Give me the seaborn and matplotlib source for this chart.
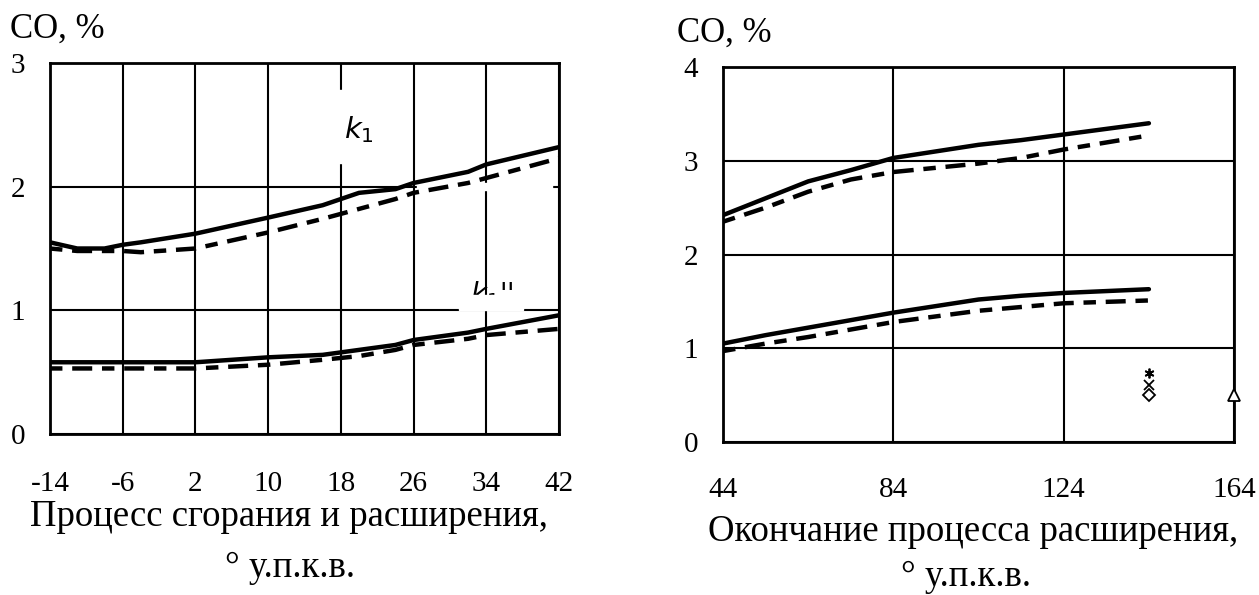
import numpy as np
import pandas as pd
import matplotlib
matplotlib.use("Agg")
import matplotlib.pyplot as plt
from matplotlib.patches import Rectangle
import seaborn as sns

# left panel: combustion and expansion
x_left = [-14, -11, -8, -6, -4, 2, 10, 16, 20, 24, 26, 32, 34, 42]
k1_solid = [1.55, 1.50, 1.50, 1.53, 1.55, 1.62, 1.75, 1.85, 1.95, 1.98, 2.03, 2.12, 2.18, 2.32]
k1_dash = [1.50, 1.48, 1.48, 1.48, 1.47, 1.50, 1.63, 1.74, 1.82, 1.90, 1.95, 2.03, 2.07, 2.23]
k2_solid = [0.58, 0.58, 0.58, 0.58, 0.58, 0.58, 0.62, 0.64, 0.68, 0.72, 0.76, 0.82, 0.85, 0.96]
k2_dash = [0.53, 0.53, 0.53, 0.53, 0.53, 0.53, 0.56, 0.60, 0.63, 0.68, 0.72, 0.77, 0.80, 0.85]

# right panel: end of expansion
x_right = [44, 54, 64, 74, 84, 104, 114, 124, 144]
r1_solid = [2.42, 2.60, 2.78, 2.90, 3.03, 3.17, 3.22, 3.28, 3.40]
r1_dash = [2.35, 2.50, 2.67, 2.80, 2.88, 2.97, 3.03, 3.12, 3.27]
r2_solid = [1.05, 1.14, 1.22, 1.30, 1.38, 1.52, 1.56, 1.59, 1.63]
r2_dash = [0.97, 1.05, 1.12, 1.20, 1.28, 1.40, 1.44, 1.48, 1.51]

# single points
pts_x = [144, 144, 144, 164]
pts_y = [0.74, 0.61, 0.50, 0.50]
pts_m = [(6, 2, 0), "x", "D", "^"]

left_ticks = [-14, -6, 2, 10, 18, 26, 34, 42]
right_ticks = [44, 84, 124, 164]

sns.set_theme(style="white")
plt.rcParams['font.family'] = ['Liberation Serif', 'DejaVu Serif']
plt.rcParams['mathtext.fontset'] = 'dejavusans'
plt.rcParams['axes.unicode_minus'] = False
for k in ['text.color', 'axes.labelcolor', 'xtick.color', 'ytick.color']:
    plt.rcParams[k] = 'black'

fig = plt.figure(figsize=(12.59, 5.95), dpi=100)
ax1 = fig.add_axes([0.0397, 0.2706, 0.4043, 0.6235])
ax2 = fig.add_axes([0.5743, 0.2571, 0.4059, 0.6303])

lw = 3.2
dash = (2.8, 2.2, 4.5, 2.2)

def draw(ax, x, ys, dashed):
    df = pd.DataFrame({"x": x, "y": ys})
    sns.lineplot(data=df, x="x", y="y", ax=ax, color="black", lw=lw, zorder=3)
    if dashed:
        ax.lines[-1].set_dashes(dash)

draw(ax1, x_left, k1_solid, False)
draw(ax1, x_left, k1_dash, True)
draw(ax1, x_left, k2_solid, False)
draw(ax1, x_left, k2_dash, True)

draw(ax2, x_right, r1_solid, False)
draw(ax2, x_right, r1_dash, True)
draw(ax2, x_right, r2_solid, False)
draw(ax2, x_right, r2_dash, True)

for px, py, m in zip(pts_x, pts_y, pts_m):
    if m in ("D", "^"):
        ax2.plot(px, py, marker=m, ms=9 if m == "^" else 6.5, mfc="white", mec="black",
                 mew=1.3, clip_on=False, zorder=4)
    else:
        ax2.plot(px, py, marker=m, ms=7, color="black", mew=1.3, zorder=4)

for ax, xt, ylim, yt in [(ax1, left_ticks, 3, [0, 1, 2, 3]),
                         (ax2, right_ticks, 4, [0, 1, 2, 3, 4])]:
    ax.set_xlim(xt[0], xt[-1])
    ax.set_ylim(0, ylim)
    ax.set_xticks(xt)
    ax.set_yticks(yt)
    ax.set_axisbelow(True)
    ax.grid(True, color="black", lw=1.5)
    for s in ax.spines.values():
        s.set_color("black")
        s.set_linewidth(2)
    ax.tick_params(length=0, labelsize=21, colors="black")
    ax.tick_params(axis="y", pad=18)
    ax.set_xlabel("")
    ax.set_ylabel("")
ax1.tick_params(axis="x", pad=27)
ax2.tick_params(axis="x", pad=25)

# labels on left panel, with white boxes that break the grid
ax1.add_patch(Rectangle((17, 2.19), 5, 0.59, color="white", zorder=1))
ax1.add_patch(Rectangle((26.4, 1.97), 14.8, 0.06, color="white", zorder=1))
ax1.text(18.4, 2.46, "$k_1$", fontsize=21, family="DejaVu Sans", va="center", zorder=1.5)
ax1.text(32.2, 1.0, "$k_1$''", fontsize=20, family="DejaVu Sans", va="bottom", zorder=1.2)
ax1.add_patch(Rectangle((31, 1.005), 7, 0.12, color="white", zorder=1.3))

fig.text(10 / 1259, 1 - 38 / 595, "CO, %", fontsize=25, va="baseline", ha="left")
fig.text(677 / 1259, 1 - 42 / 595, "CO, %", fontsize=25, va="baseline", ha="left")

fig.text(289 / 1259, 1 - 526 / 595, "Процесс сгорания и расширения,", fontsize=26.5,
         ha="center", va="baseline")
fig.text(290 / 1259, 1 - 577 / 595, "° у.п.к.в.", fontsize=26.5, ha="center", va="baseline")
fig.text(973 / 1259, 1 - 541 / 595, "Окончание процесса расширения,", fontsize=26.5,
         ha="center", va="baseline")
fig.text(966 / 1259, 1 - 586 / 595, "° у.п.к.в.", fontsize=26.5, ha="center", va="baseline")

fig.savefig("out.png", dpi=100)
